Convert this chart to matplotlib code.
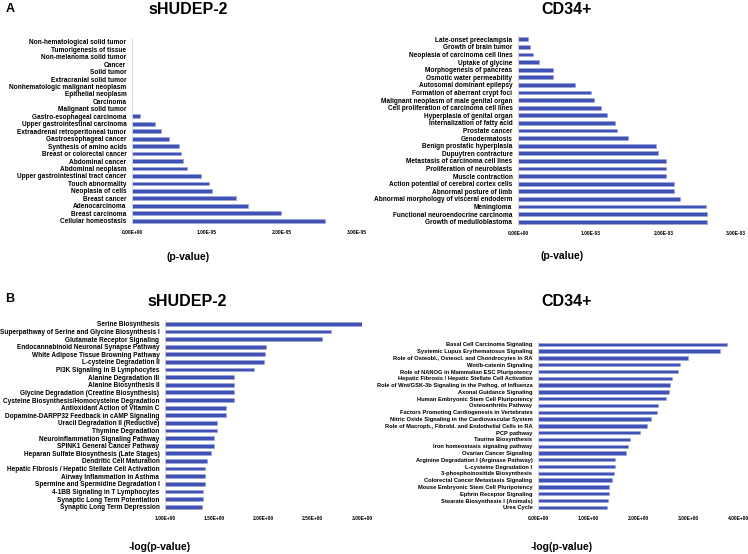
import matplotlib
matplotlib.use("Agg")
import matplotlib.pyplot as plt
from matplotlib.ticker import FuncFormatter

plt.rcParams["font.family"] = ["Liberation Sans", "DejaVu Sans"]
plt.rcParams["font.weight"] = "bold"

W, H = 748, 554
BAR = "#4052b5"

# panel A, sHUDEP-2 (top to bottom)
a1_terms = [
    "Non-hematological solid tumor", "Tumorigenesis of tissue", "Non-melanoma solid tumor",
    "Cancer", "Solid tumor", "Extracranial solid tumor", "Nonhematologic malignant neoplasm",
    "Epithelial neoplasm", "Carcinoma", "Malignant solid tumor", "Gastro-esophageal carcinoma",
    "Upper gastrointestinal carcinoma", "Extraadrenal retroperitoneal tumor",
    "Gastroesophageal cancer", "Synthesis of amino acids", "Breast or colorectal cancer",
    "Abdominal cancer", "Abdominal neoplasm", "Upper gastrointestinal tract cancer",
    "Touch abnormality", "Neoplasia of cells", "Breast cancer", "Adenocarcinoma",
    "Breast carcinoma", "Cellular homeostasis",
]
a1_vals = [0, 0, 0, 0, 0, 0, 0, 0, 0, 0, 0.10e-5, 0.31e-5, 0.39e-5, 0.49e-5, 0.63e-5,
           0.65e-5, 0.68e-5, 0.73e-5, 0.92e-5, 1.02e-5, 1.07e-5, 1.38e-5, 1.55e-5,
           1.98e-5, 2.57e-5]

# panel A, CD34+
a2_terms = [
    "Late-onset preeclampsia", "Growth of brain tumor", "Neoplasia of carcinoma cell lines",
    "Uptake of glycine", "Morphogenesis of pancreas", "Osmotic water permeability",
    "Autosomal dominant epilepsy", "Formation of aberrant crypt foci",
    "Malignant neoplasm of male genital organ", "Cell proliferation of carcinoma cell lines",
    "Hyperplasia of genital organ", "Internalization of fatty acid", "Prostate cancer",
    "Genodermatosis", "Benign prostatic hyperplasia", "Dupuytren contracture",
    "Metastasis of carcinoma cell lines", "Proliferation of neuroblasts", "Muscle contraction",
    "Action potential of cerebral cortex cells", "Abnormal posture of limb",
    "Abnormal morphology of visceral endoderm", "Meningioma",
    "Functional neuroendocrine carcinoma", "Growth of medulloblastoma",
]
a2_vals = [0.14e-3, 0.17e-3, 0.20e-3, 0.29e-3, 0.48e-3, 0.48e-3, 0.79e-3, 1.01e-3, 1.04e-3,
           1.14e-3, 1.22e-3, 1.33e-3, 1.36e-3, 1.51e-3, 1.90e-3, 1.93e-3, 2.04e-3, 2.04e-3,
           2.04e-3, 2.14e-3, 2.14e-3, 2.23e-3, 2.59e-3, 2.60e-3, 2.60e-3]

# panel B, sHUDEP-2
b1_terms = [
    "Serine Biosynthesis", "Superpathway of Serine and Glycine Biosynthesis I",
    "Glutamate Receptor Signaling", "Endocannabinoid Neuronal Synapse Pathway",
    "White Adipose Tissue Browning Pathway", "L-cysteine Degradation II",
    "PI3K Signaling in B Lymphocytes", "Alanine Degradation III", "Alanine Biosynthesis II",
    "Glycine Degradation (Creatine Biosynthesis)",
    "Cysteine Biosynthesis/Homocysteine Degradation", "Antioxidant Action of Vitamin C",
    "Dopamine-DARPP32 Feedback in cAMP Signaling", "Uracil Degradation II (Reductive)",
    "Thymine Degradation", "Neuroinflammation Signaling Pathway",
    "SPINK1 General Cancer Pathway", "Heparan Sulfate Biosynthesis (Late Stages)",
    "Dendritic Cell Maturation", "Hepatic Fibrosis / Hepatic Stellate Cell Activation",
    "Airway Inflammation in Asthma", "Spermine and Spermidine Degradation I",
    "4-1BB Signaling in T Lymphocytes", "Synaptic Long Term Potentiation",
    "Synaptic Long Term Depression",
]
b1_vals = [3.00, 2.69, 2.59, 2.03, 2.02, 2.00, 1.90, 1.70, 1.70, 1.70, 1.70, 1.62, 1.62,
           1.53, 1.53, 1.50, 1.50, 1.47, 1.43, 1.41, 1.41, 1.41, 1.39, 1.39, 1.38]

# panel B, CD34+
b2_terms = [
    "Basal Cell Carcinoma Signaling", "Systemic Lupus Erythematosus Signaling",
    "Role of Osteobl., Osteocl. and Chondrocytes in RA", "Wnt/b-catenin Signaling",
    "Role of NANOG in Mammalian ESC Pluripotency",
    "Hepatic Fibrosis / Hepatic Stellate Cell Activation",
    "Role of Wnt/GSK-3b Signaling in the Pathog. of Influenza", "Axonal Guidance Signaling",
    "Human Embryonic Stem Cell Pluripotency", "Osteoarthritis Pathway",
    "Factors Promoting Cardiogenesis in Vertebrates",
    "Nitric Oxide Signaling in the Cardiovascular System",
    "Role of Macroph., Fibrobl. and Endothelial Cells in RA", "PCP pathway",
    "Taurine Biosynthesis", "Iron homeostasis signaling pathway", "Ovarian Cancer Signaling",
    "Arginine Degradation I (Arginase Pathway)", "L-cysteine Degradation I",
    "3-phosphoinositide Biosynthesis", "Colorectal Cancer Metastasis Signaling",
    "Mouse Embryonic Stem Cell Pluripotency", "Ephrin Receptor Signaling",
    "Stearate Biosynthesis I (Animals)", "Urea Cycle",
]
b2_vals = [3.78, 3.63, 3.00, 2.84, 2.80, 2.68, 2.64, 2.62, 2.56, 2.39, 2.37, 2.26, 2.17,
           2.03, 1.84, 1.79, 1.76, 1.54, 1.54, 1.52, 1.47, 1.42, 1.41, 1.40, 1.38]


def px_axes(fig, x0, x1, top, bottom):
    return fig.add_axes([x0 / W, 1 - bottom / H, (x1 - x0) / W, (bottom - top) / H])


def panel(fig, box, terms, vals, xlim, xticks, fs):
    ax = px_axes(fig, *box)
    y = list(range(len(terms)))
    ax.barh(y, vals, height=0.5, color=BAR, edgecolor="#9aa3d8", linewidth=0.4)
    ax.set_ylim(len(terms) - 0.5, -0.5)
    ax.set_yticks(y)
    ax.set_yticklabels(terms, fontsize=fs, fontweight="bold")
    ax.set_xlim(*xlim)
    ax.set_xticks(xticks)
    ax.xaxis.set_major_formatter(FuncFormatter(lambda v, p: f"{v:.2E}"))
    ax.tick_params(axis="both", length=0)
    ax.tick_params(axis="x", labelsize=3.5, pad=4)
    ax.tick_params(axis="y", pad=4)
    for s in ["top", "right", "bottom"]:
        ax.spines[s].set_visible(False)
    ax.spines["left"].set_color("#d9d9d9")
    ax.spines["left"].set_linewidth(0.6)
    return ax


fig = plt.figure(figsize=(W / 100, H / 100), dpi=100)

panel(fig, (132, 357, 38, 224.4), a1_terms, a1_vals, (0, 3e-5), [0, 1e-5, 2e-5, 3e-5], 4.7)
panel(fig, (518, 736, 35.5, 225.5), a2_terms, a2_vals, (0, 3e-3), [0, 1e-3, 2e-3, 3e-3], 4.7)
panel(fig, (165, 362, 320, 510.5), b1_terms, b1_vals, (1, 3), [1, 1.5, 2, 2.5, 3], 4.7)
panel(fig, (538, 738, 341, 510.7), b2_terms, b2_vals, (0, 4), [0, 1, 2, 3, 4], 4.15)


def ftext(x, y, s, size, **kw):
    fig.text(x / W, 1 - y / H, s, fontsize=size, fontweight="bold", ha="center", va="center", **kw)


ftext(10, 9, "A", 9)
ftext(10, 299, "B", 9)
ftext(188, 10, "sHUDEP-2", 11.5)
ftext(567, 10, "CD34+", 11.5)
ftext(187, 302, "sHUDEP-2", 11.5)
ftext(567, 302, "CD34+", 11.5)
ftext(188, 257, "(p-value)", 7.5)
ftext(562, 256, "(p-value)", 7.5)
ftext(160, 547, "-log(p-value)", 7.5)
ftext(562, 547, "-log(p-value)", 7.5)

fig.savefig("out.png", dpi=100)
